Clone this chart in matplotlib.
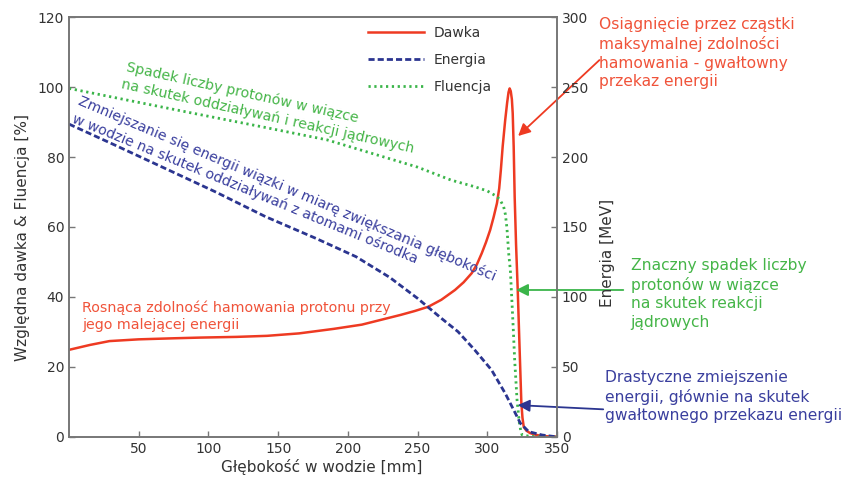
import matplotlib
matplotlib.use("Agg")
import matplotlib.pyplot as plt

dawka_glebokosc = [0, 15, 29, 50, 75, 94, 120, 142, 165, 190, 210, 226, 238, 248, 257.6, 267, 276.8, 283, 288.8, 292.5,
                   296, 299, 302, 304.5, 306.9, 308.5, 309.7, 311, 312.8, 314.2, 315.2, 316, 316.8, 317.6, 318.2, 318.9,
                   319.6, 320.6, 321.8, 323, 324.4, 325.2, 326.1, 328, 330.7, 335, 339, 345, 350]
dawka = [24.9, 26.3, 27.4, 27.9, 28.2, 28.4, 28.6, 28.9, 29.6, 30.9, 32.1, 33.7, 34.9, 36.0, 37.2, 39.2, 42.0, 44.2, 46.8, 49.3,
         52.5, 55.6, 59.1, 62.8, 66.8, 71.0, 76.3, 83, 90.5, 95.5, 98.5, 99.6, 98.8, 96.5, 92.5, 82.9,
         68.7, 55, 42, 27, 9.7, 5.5, 2.9, 1.8, 1.1, 0.6, 0.3, 0.15, 0.1]

energia_glebokosc = [0, 32.7, 68.8, 104.8, 140.9, 177, 205.8, 230, 250, 267, 279, 291, 303, 312.8, 318.9, 323.7, 329.7,
                     339.3, 349]
energia = [223.5, 208.6, 191.9, 175.2, 157.4, 141.9, 128.8, 114, 99, 84.8, 75.2, 62.1, 47.9, 31.2, 19.3, 9.8, 3.8,
           1.4, 0.2]

fluencja_glebokosc = [0, 45, 89, 140, 185, 220, 250, 274, 291, 300, 306.9, 309.5, 311.7, 313, 314.1, 315.3, 316.5, 317.7,
                      318.7, 319.6, 320.5, 321.3, 322.2, 323, 324, 324.9, 330, 340, 350]
fluencja = [99.6, 96.0, 92.5, 88.5, 84.9, 80.7, 77.1, 73.4, 71.5, 70.3, 68.7, 67.5, 65.8, 63.5, 59.5, 52.5, 47.7, 38.2,
            30, 22, 16, 10.6, 7, 3.9, 1.8, 0.6, 0.2, 0, 0]

x_ticks = [50, 100, 150, 200, 250, 300, 350]
y_ticks = [0, 20, 40, 60, 80, 100, 120]
e_ticks = [0, 50, 100, 150, 200, 250, 300]

czerwony = "#ee3a22"
niebieski = "#2b3590"
zielony = "#3bb54a"
t_czerwony = "#f0533a"
t_niebieski = "#3a3f9e"
t_zielony = "#45b548"

plt.rcParams['font.family'] = ['DejaVu Sans']

fig = plt.figure(figsize=(8.48, 4.82), dpi=100)
ax = fig.add_axes([0.0814, 0.0934, 0.5755, 0.8713])
ax2 = ax.twinx()

l1, = ax.plot(dawka_glebokosc, dawka, color=czerwony, lw=1.8, label="Dawka")
l3, = ax.plot(fluencja_glebokosc, fluencja, color=zielony, lw=2.0, dashes=(0.8, 1.3), label="Fluencja")
l2, = ax2.plot(energia_glebokosc, energia, color=niebieski, lw=2.0, dashes=(2.2, 1.1), label="Energia")

ax.set_xlim(0, 350)
ax.set_ylim(0, 120)
ax2.set_ylim(0, 300)
ax.set_xticks(x_ticks)
ax.set_yticks(y_ticks)
ax2.set_yticks(e_ticks)

for a in (ax, ax2):
    a.tick_params(direction='in', length=4, width=1, colors='#777777', labelcolor='#333333', labelsize=10)
    for s in a.spines.values():
        s.set_color('#777777')
        s.set_linewidth(1.2)

ax.set_xlabel("Głębokość w wodzie [mm]", fontsize=11, color='#333333')
ax.set_ylabel("Względna dawka & Fluencja [%]", fontsize=11, color='#333333')
ax2.set_ylabel("Energia [MeV]", fontsize=11, color='#333333')
ax.xaxis.set_label_coords(0.518, -0.052)
ax.yaxis.set_label_coords(-0.080, 0.474)
ax2.yaxis.set_label_coords(1.088, 0.438)

leg = ax2.legend(handles=[l1, l2, l3], loc='upper left', bbox_to_anchor=(0.588, 1.008), frameon=False,
                 fontsize=10, handlelength=4.0, handletextpad=0.7, labelspacing=0.93)
for t in leg.get_texts():
    t.set_color('#333333')

# opisy pochylone
ax.text(41.3, 105.7, "Spadek liczby protonów w wiązce", color=t_zielony, fontsize=10.2, rotation=-12.5,
        rotation_mode='anchor', ha='left', va='center')
ax.text(37.7, 100.9, "na skutek oddziaływań i reakcji jądrowych", color=t_zielony, fontsize=10.2, rotation=-12.5,
        rotation_mode='anchor', ha='left', va='center')
ax.text(6.7, 96.2, "Zmniejszanie się energii wiązki w miarę zwiększania głębokości", color=t_niebieski, fontsize=10.2,
        rotation=-23, rotation_mode='anchor', ha='left', va='center')
ax.text(2.4, 91.1, "w wodzie na skutek oddziaływań z atomami ośrodka", color=t_niebieski, fontsize=10.2,
        rotation=-22.3, rotation_mode='anchor', ha='left', va='center')

ax.text(9.6, 39.1, "Rosnąca zdolność hamowania protonu przy\njego malejącej energii", color=t_czerwony,
        fontsize=10.3, ha='left', va='top', linespacing=1.26)
ax.text(380.2, 119.9, "Osiągnięcie przez cząstki\nmaksymalnej zdolności\nhamowania - gwałtowny\nprzekaz energii",
        color=t_czerwony, fontsize=11.2, ha='left', va='top', linespacing=1.29, clip_on=False)
ax.text(402.8, 51.1, "Znaczny spadek liczby\nprotonów w wiązce\nna skutek reakcji\njądrowych",
        color=t_zielony, fontsize=11.2, ha='left', va='top', linespacing=1.29, clip_on=False)
ax.text(384.7, 19.1, "Drastyczne zmiejszenie\nenergii, głównie na skutek\ngwałtownego przekazu energii",
        color=t_niebieski, fontsize=11.2, ha='left', va='top', linespacing=1.29, clip_on=False)

# strzalki
ax.annotate('', xy=(322.1, 86.0), xytext=(380.4, 107.7), annotation_clip=False,
            arrowprops=dict(arrowstyle='-|>', color=czerwony, lw=1.3, mutation_scale=18, shrinkA=0, shrinkB=0))
ax.annotate('', xy=(320.6, 42.0), xytext=(397.5, 42.0), annotation_clip=False,
            arrowprops=dict(arrowstyle='-|>', color=zielony, lw=1.3, mutation_scale=18, shrinkA=0, shrinkB=0))
ax.annotate('', xy=(321.8, 9.1), xytext=(383.1, 7.9), annotation_clip=False,
            arrowprops=dict(arrowstyle='-|>', color=niebieski, lw=1.3, mutation_scale=18, shrinkA=0, shrinkB=0))

fig.savefig("out.png", dpi=100)
